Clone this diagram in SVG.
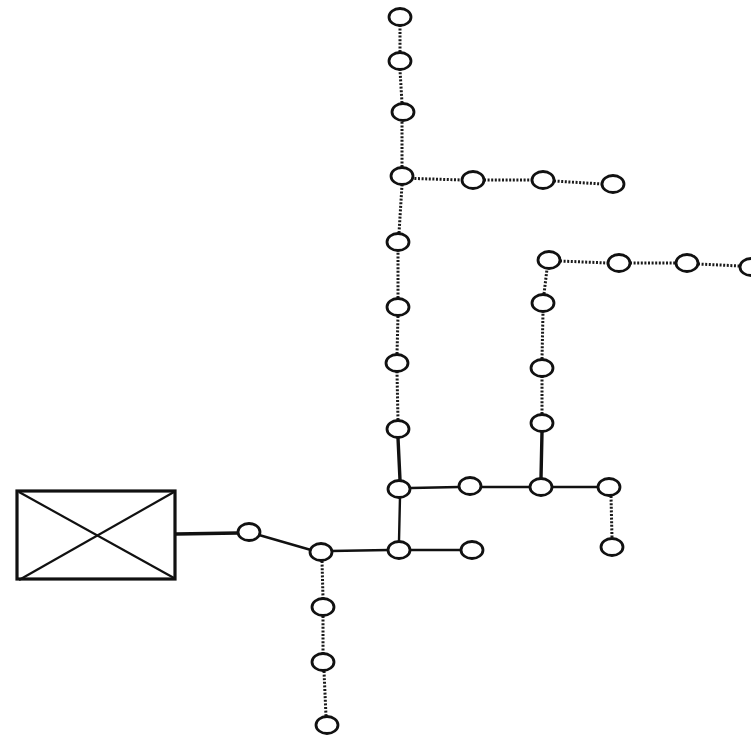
<svg xmlns="http://www.w3.org/2000/svg" width="751" height="736" viewBox="0 0 751 736">
<defs>
<style>
.n{fill:#fff;stroke:#111;stroke-width:2.8}
.s{stroke:#111;stroke-width:2.4;fill:none;stroke-linecap:round}
.t{stroke:#111;stroke-width:3.4;fill:none;stroke-linecap:round}
.d{stroke:#1a1a1a;stroke-width:3;fill:none;stroke-dasharray:2 1.6}
.b{fill:#fff;stroke:#111;stroke-width:3.2}
.x{stroke:#111;stroke-width:2.2;fill:none}
</style>
</defs>
<rect width="751" height="736" fill="#fff"/>
<g id="connectors">
<line class="t" x1="176" y1="534" x2="238" y2="533"/>
<line class="s" x1="259" y1="535" x2="311" y2="550"/>
<line class="s" x1="331" y1="551" x2="389" y2="550"/>
<line class="s" x1="410" y1="550" x2="461" y2="550"/>
<line class="s" x1="399" y1="541" x2="400" y2="497"/>
<line class="s" x1="411" y1="488" x2="459" y2="487"/>
<line class="s" x1="481" y1="487" x2="530" y2="487"/>
<line class="s" x1="552" y1="487" x2="598" y2="487"/>
<line class="t" x1="398" y1="438" x2="400" y2="480"/>
<line class="t" x1="542" y1="432" x2="541" y2="478"/>
<line class="d" x1="322" y1="561" x2="323" y2="598"/>
<line class="d" x1="323" y1="616" x2="323" y2="653"/>
<line class="d" x1="324" y1="671" x2="326" y2="716"/>
<line class="d" x1="611" y1="496" x2="612" y2="538"/>
<line class="d" x1="398" y1="420" x2="397" y2="372"/>
<line class="d" x1="397" y1="354" x2="398" y2="316"/>
<line class="d" x1="398" y1="298" x2="398" y2="251"/>
<line class="d" x1="399" y1="233" x2="402" y2="185"/>
<line class="d" x1="402" y1="167" x2="402" y2="121"/>
<line class="d" x1="402" y1="103" x2="400" y2="70"/>
<line class="d" x1="400" y1="52" x2="400" y2="26"/>
<line class="d" x1="400" y1="178" x2="462" y2="180"/>
<line class="d" x1="484" y1="180" x2="532" y2="180"/>
<line class="d" x1="554" y1="181" x2="602" y2="184"/>
<line class="d" x1="542" y1="414" x2="542" y2="377"/>
<line class="d" x1="542" y1="359" x2="543" y2="312"/>
<line class="d" x1="544" y1="294" x2="547" y2="269"/>
<line class="d" x1="560" y1="261" x2="608" y2="263"/>
<line class="d" x1="630" y1="263" x2="676" y2="263"/>
<line class="d" x1="698" y1="264" x2="740" y2="266"/>
</g>
<g id="box">
<rect class="b" x="17" y="491" width="158" height="88"/>
<line class="x" x1="19" y1="492" x2="174" y2="578"/>
<line class="x" x1="174" y1="492" x2="19" y2="580"/>
</g>
<g id="n-E"><ellipse class="n" cx="249" cy="532" rx="11" ry="8.5"/></g>
<g id="n-F"><ellipse class="n" cx="321" cy="552" rx="11" ry="8.5"/></g>
<g id="n-M1"><ellipse class="n" cx="399" cy="550" rx="11" ry="8.5"/></g>
<g id="n-M2"><ellipse class="n" cx="472" cy="550" rx="11" ry="8.5"/></g>
<g id="n-G1"><ellipse class="n" cx="323" cy="607" rx="11" ry="8.5"/></g>
<g id="n-G2"><ellipse class="n" cx="323" cy="662" rx="11" ry="8.5"/></g>
<g id="n-G3"><ellipse class="n" cx="327" cy="725" rx="11" ry="8.5"/></g>
<g id="n-J1"><ellipse class="n" cx="399" cy="489" rx="11" ry="8.5"/></g>
<g id="n-H1"><ellipse class="n" cx="470" cy="486" rx="11" ry="8.5"/></g>
<g id="n-J2"><ellipse class="n" cx="541" cy="487" rx="11" ry="8.5"/></g>
<g id="n-R1"><ellipse class="n" cx="609" cy="487" rx="11" ry="8.5"/></g>
<g id="n-R2"><ellipse class="n" cx="612" cy="547" rx="11" ry="8.5"/></g>
<g id="n-A8"><ellipse class="n" cx="398" cy="429" rx="11" ry="8.5"/></g>
<g id="n-A7"><ellipse class="n" cx="397" cy="363" rx="11" ry="8.5"/></g>
<g id="n-A6"><ellipse class="n" cx="398" cy="307" rx="11" ry="8.5"/></g>
<g id="n-A5"><ellipse class="n" cx="398" cy="242" rx="11" ry="8.5"/></g>
<g id="n-A4"><ellipse class="n" cx="402" cy="176" rx="11" ry="8.5"/></g>
<g id="n-A3"><ellipse class="n" cx="403" cy="112" rx="11" ry="8.5"/></g>
<g id="n-A2"><ellipse class="n" cx="400" cy="61" rx="11" ry="8.5"/></g>
<g id="n-A1"><ellipse class="n" cx="400" cy="17" rx="11" ry="8.5"/></g>
<g id="n-B1"><ellipse class="n" cx="473" cy="180" rx="11" ry="8.5"/></g>
<g id="n-B2"><ellipse class="n" cx="543" cy="180" rx="11" ry="8.5"/></g>
<g id="n-B3"><ellipse class="n" cx="613" cy="184" rx="11" ry="8.5"/></g>
<g id="n-D3"><ellipse class="n" cx="542" cy="423" rx="11" ry="8.5"/></g>
<g id="n-D2"><ellipse class="n" cx="542" cy="368" rx="11" ry="8.5"/></g>
<g id="n-D1"><ellipse class="n" cx="543" cy="303" rx="11" ry="8.5"/></g>
<g id="n-C1"><ellipse class="n" cx="549" cy="260" rx="11" ry="8.5"/></g>
<g id="n-C2"><ellipse class="n" cx="619" cy="263" rx="11" ry="8.5"/></g>
<g id="n-C3"><ellipse class="n" cx="687" cy="263" rx="11" ry="8.5"/></g>
<g id="n-C4"><ellipse class="n" cx="751" cy="267" rx="11" ry="8.5"/></g>
</svg>
